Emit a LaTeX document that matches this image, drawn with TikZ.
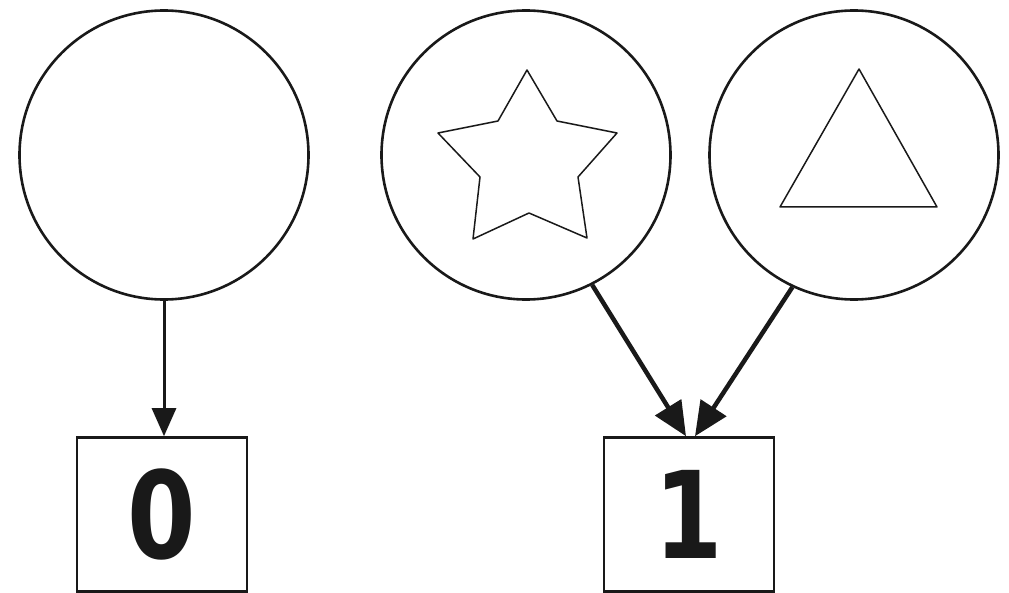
\documentclass[tikz,border=0pt]{standalone}
\usepackage{fontspec}
\newfontfamily\digitfont{DejaVu Sans}
\usetikzlibrary{arrows.meta}
\newcommand{\narrowdigit}[1]{\scalebox{0.83}[1.02]{#1}}
\tikzset{
  bigcircle/.style={circle, draw=black!90, line width=2.6bp, minimum size=289bp, inner sep=0pt},
  digitbox/.style={rectangle, draw=black!90, line width=2.6bp, minimum width=170bp, minimum height=154bp, inner sep=0pt,
    font=\digitfont\bfseries\fontsize{119}{120}\selectfont, text=black!90},
  thinshape/.style={draw=black!90, line width=1.5bp, line join=round},
  arrowA/.style={draw=black!90, line width=3bp, -{Triangle[length=28bp,width=24bp]}},
  arrowB/.style={draw=black!90, line width=4.5bp, -{Triangle[length=34bp,width=30bp]}}
}
\begin{document}
\begin{tikzpicture}[x=1bp,y=-1bp]
\useasboundingbox (0,0) rectangle (1009,593);
\node[bigcircle] (c0) at (164,155) {};
\node[bigcircle] (c1) at (526,155) {};
\node[bigcircle] (c2) at (854,155) {};
\node[digitbox] (b0) at (162,514.5) {\narrowdigit{0}};
\node[digitbox] (b1) at (689,514.5) {\narrowdigit{1}};
% star
\draw[thinshape] (527,70) -- (557,121) -- (617,133) -- (578,177) -- (587,238) -- (529,213)
  -- (473,239) -- (480,177) -- (438,133) -- (498,121) -- cycle;
% triangle
\draw[thinshape] (859,69) -- (937,207) -- (780,207) -- cycle;
% arrows
\draw[arrowA] (c0.south) -- (c0.south |- b0.north);
\draw[arrowB] (c1.-63) -- ([xshift=-3bp]b1.north);
\draw[arrowB] (c2.-115) -- ([xshift=6bp]b1.north);
\end{tikzpicture}
\end{document}
